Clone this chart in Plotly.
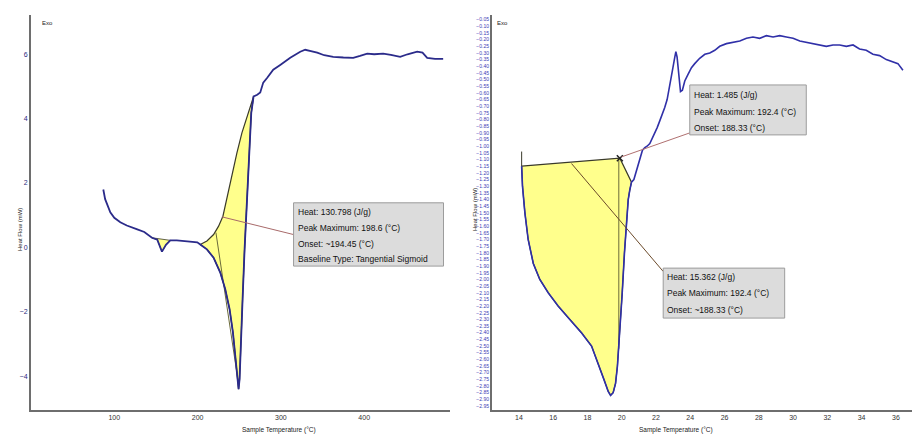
import plotly.graph_objects as go

# ---------------- left thermogram (Tangential Sigmoid baseline) ----------------
left_temp = [86.8, 89.0, 95.2, 100.0, 107.2, 115.0, 127.6, 136.0, 145.2, 151.6,
             157.2, 162.0, 167.2, 175.0, 187.6, 199.6, 203.2, 211.2, 219.2, 227.2,
             233.2, 238.4, 242.4, 245.6, 248.0, 249.2, 250.4, 252.0, 254.0, 256.4,
             259.2, 262.0, 264.4, 267.2, 271.6, 275.2, 278.8, 283.6, 290.8, 299.2,
             311.2, 323.2, 329.2, 336.0, 343.6, 352.0, 362.8, 375.0, 386.8, 395.0,
             403.6, 412.0, 422.8, 432.0, 443.2, 452.0, 463.6, 470.0, 475.6, 485.0,
             494.8]
left_flow = [1.80, 1.50, 1.09, 0.92, 0.78, 0.68, 0.56, 0.48, 0.30, 0.24,
             -0.13, 0.08, 0.22, 0.22, 0.19, 0.16, 0.09, -0.06, -0.32, -0.78,
             -1.30, -1.92, -2.64, -3.47, -4.09, -4.40, -4.09, -3.16, -1.61, -0.06,
             1.49, 3.04, 4.18, 4.69, 4.74, 4.81, 5.12, 5.27, 5.52, 5.67,
             5.89, 6.08, 6.14, 6.10, 6.05, 5.97, 5.92, 5.90, 5.89, 5.95,
             6.02, 6.00, 6.02, 5.98, 5.92, 6.00, 6.08, 6.05, 5.89, 5.86,
             5.86]
left_base_temp = [203.2, 211.2, 219.2, 225.2, 230.4, 235.2, 241.2, 247.2, 253.2, 259.2, 267.2]
left_base_flow = [0.09, 0.20, 0.40, 0.66, 0.97, 1.49, 2.21, 2.94, 3.56, 4.07, 4.69]
left_small_peak = (145.2, 167.2)
left_xticks = [100, 200, 300, 400]
left_yticks = [-4, -2, 0, 2, 4, 6]
left_box_text = ["Heat: 130.798 (J/g)", "Peak Maximum: 198.6 (°C)",
                 "Onset: ~194.45 (°C)", "Baseline Type: Tangential Sigmoid"]

# ---------------- right thermogram ----------------
right_temp = [141.6, 142.1, 143.5, 145.4, 148.4, 152.2, 157.1, 162.9, 169.7, 176.5,
              182.4, 186.3, 189.6, 192.1, 193.5, 195.0, 196.4, 197.5, 198.9, 200.3,
              201.6, 202.8, 203.8, 204.7, 205.7, 207.1, 208.0, 209.2, 210.6, 212.1,
              213.5, 214.8, 216.4, 217.9, 219.3, 220.7, 222.2, 223.8, 225.1, 226.5,
              228.1, 229.6, 231.0, 231.6, 232.3, 233.3, 234.3, 235.4, 236.8, 238.7,
              240.7, 242.6, 245.5, 248.5, 251.4, 254.3, 257.2, 261.1, 265.0, 268.9,
              272.8, 276.6, 280.5, 284.4, 288.3, 292.2, 296.1, 300.0, 303.9, 307.7,
              311.6, 315.5, 319.4, 323.3, 327.2, 331.1, 335.0, 338.8, 342.7, 346.6,
              350.5, 354.4, 358.3, 361.2, 364.1]
right_flow = [-1.15, -1.30, -1.50, -1.70, -1.88, -2.00, -2.10, -2.20, -2.30, -2.40,
              -2.50, -2.63, -2.75, -2.84, -2.87, -2.85, -2.78, -2.65, -2.40, -2.10,
              -1.80, -1.55, -1.40, -1.33, -1.27, -1.25, -1.21, -1.16, -1.08, -1.03,
              -1.01, -1.00, -0.98, -0.94, -0.90, -0.86, -0.81, -0.76, -0.71, -0.65,
              -0.55, -0.43, -0.33, -0.29, -0.33, -0.45, -0.59, -0.58, -0.51, -0.46,
              -0.41, -0.38, -0.34, -0.31, -0.30, -0.28, -0.25, -0.23, -0.22, -0.21,
              -0.19, -0.18, -0.19, -0.17, -0.18, -0.17, -0.18, -0.19, -0.21, -0.22,
              -0.23, -0.24, -0.25, -0.24, -0.24, -0.25, -0.24, -0.27, -0.28, -0.31,
              -0.32, -0.35, -0.37, -0.38, -0.43]
right_base_temp = [141.6, 198.9, 205.7]
right_base_flow = [-1.15, -1.09, -1.27]
right_xticks = [140, 160, 180, 200, 220, 240, 260, 280, 300, 320, 340, 360]
right_xtick_text = ["14", "16", "18", "20", "22", "24", "26", "28", "30", "32", "34", "36"]
right_top_box_text = ["Heat: 1.485 (J/g)", "Peak Maximum: 192.4 (°C)", "Onset: 188.33 (°C)"]
right_low_box_text = ["Heat: 15.362 (J/g)", "Peak Maximum: 192.4 (°C)", "Onset: ~188.33 (°C)"]

CURVE = "#2b2b8a"
EDGE = "#3a3a2a"
FILL = "rgb(255,255,140)"
AXIS = "#6e6e6e"
BOXFILL = "#dcdcdc"
BOXLINE = "#9c9c9c"
FONT = "Liberation Sans, Arial, sans-serif"

fig = go.Figure()

# left: yellow area between the curve and the sigmoid baseline
lo, hi = left_base_temp[0], left_base_temp[-1]
seg = [(t, f) for t, f in zip(left_temp, left_flow) if lo <= t <= hi]
fig.add_trace(go.Scatter(
    x=[p[0] for p in seg] + left_base_temp[::-1],
    y=[p[1] for p in seg] + left_base_flow[::-1],
    fill="toself", fillcolor=FILL, mode="lines", line=dict(color=EDGE, width=1.2),
    xaxis="x", yaxis="y", hoverinfo="skip"))
# left: small event near 157 °C
a, b = left_small_peak
seg2 = [(t, f) for t, f in zip(left_temp, left_flow) if a <= t <= b]
fig.add_trace(go.Scatter(
    x=[p[0] for p in seg2] + [a], y=[p[1] for p in seg2] + [seg2[0][1]],
    fill="toself", fillcolor=FILL, mode="lines", line=dict(color=EDGE, width=0.8),
    xaxis="x", yaxis="y", hoverinfo="skip"))
# left: peak marker line inside the area
fig.add_trace(go.Scatter(x=[222.0, 248.8], y=[0.46, -4.19], mode="lines",
                         line=dict(color="#6b6b3a", width=1), xaxis="x", yaxis="y"))
# left: measured curve
fig.add_trace(go.Scatter(x=left_temp, y=left_flow, mode="lines",
                         line=dict(color=CURVE, width=1.8), xaxis="x", yaxis="y"))
# left: connector to the result box
fig.add_trace(go.Scatter(x=[229.2, 315.2], y=[0.95, 0.40], mode="lines",
                         line=dict(color="#a86a6a", width=1), xaxis="x", yaxis="y"))

# right: yellow area under the linear baseline
rlo, rhi = right_base_temp[0], right_base_temp[-1]
rseg = [(t, f) for t, f in zip(right_temp, right_flow) if rlo <= t <= rhi]
fig.add_trace(go.Scatter(
    x=[p[0] for p in rseg] + right_base_temp[::-1],
    y=[p[1] for p in rseg] + right_base_flow[::-1],
    fill="toself", fillcolor=FILL, mode="lines", line=dict(color=EDGE, width=1.2),
    xaxis="x2", yaxis="y2", hoverinfo="skip"))
fig.add_trace(go.Scatter(x=[198.3, 198.3], y=[-1.09, -2.52], mode="lines",
                         line=dict(color="#6b6b3a", width=1), xaxis="x2", yaxis="y2"))
fig.add_trace(go.Scatter(x=[141.6, 141.6], y=[-1.04, -1.15], mode="lines",
                         line=dict(color=EDGE, width=1), xaxis="x2", yaxis="y2"))
fig.add_trace(go.Scatter(x=right_temp, y=right_flow, mode="lines",
                         line=dict(color="#3030a8", width=1.6), xaxis="x2", yaxis="y2"))
fig.add_trace(go.Scatter(x=[right_base_temp[1]], y=[right_base_flow[1]], mode="markers",
                         marker=dict(symbol="x-thin", size=6, line=dict(color="#222", width=1.5)),
                         xaxis="x2", yaxis="y2"))
fig.add_trace(go.Scatter(x=[199.9, 239.7], y=[-1.08, -0.90], mode="lines",
                         line=dict(color="#b07070", width=1), xaxis="x2", yaxis="y2"))
fig.add_trace(go.Scatter(x=[170.7, 224.2], y=[-1.13, -1.94], mode="lines",
                         line=dict(color="#6b4a2a", width=1), xaxis="x2", yaxis="y2"))

shapes = [
    dict(type="rect", xref="x", yref="y", x0=315.2, x1=495.2, y0=-0.58, y1=1.386,
         fillcolor=BOXFILL, line=dict(color=BOXLINE, width=1), layer="above"),
    dict(type="rect", xref="x2", yref="y2", x0=239.7, x1=307.7, y0=-0.915, y1=-0.54,
         fillcolor=BOXFILL, line=dict(color=BOXLINE, width=1), layer="above"),
    dict(type="rect", xref="x2", yref="y2", x0=224.2, x1=295.1, y0=-2.29, y1=-1.915,
         fillcolor=BOXFILL, line=dict(color=BOXLINE, width=1), layer="above"),
]

annotations = []
box_font = dict(family=FONT, size=8.5, color="#111")
for txt, yv in zip(left_box_text, [1.116, 0.589, 0.093, -0.372]):
    annotations.append(dict(x=318.0, y=yv, xref="x", yref="y", text=txt, showarrow=False,
                            xanchor="left", yanchor="middle", font=box_font))
for txt, yv in zip(right_top_box_text, [-0.615, -0.7425, -0.8625]):
    annotations.append(dict(x=241.0, y=yv, xref="x2", yref="y2", text=txt, showarrow=False,
                            xanchor="left", yanchor="middle", font=box_font))
for txt, yv in zip(right_low_box_text, [-1.98, -2.10, -2.2275]):
    annotations.append(dict(x=225.3, y=yv, xref="x2", yref="y2", text=txt, showarrow=False,
                            xanchor="left", yanchor="middle", font=box_font))

# axis titles and corner labels
small = dict(family="Liberation Sans, sans-serif", size=6, color="#222")
title_font = dict(family="Liberation Sans, sans-serif", size=6.5, color="#222")
annotations += [
    dict(x=15 / 914, y=1 - 230 / 434, xref="paper", yref="paper", text="Heat Flow (mW)",
         textangle=-90, showarrow=False, font=small),
    dict(x=475 / 914, y=1 - 210 / 434, xref="paper", yref="paper", text="Heat Flow (mW)",
         textangle=-90, showarrow=False, font=small),
    dict(x=240 / 914, y=-0.004, xref="paper", yref="paper", yanchor="bottom",
         text="Sample Temperature (°C)", showarrow=False, font=title_font),
    dict(x=715 / 914, y=-0.004, xref="paper", yref="paper", yanchor="bottom",
         text="Sample Temperature (°C)", showarrow=False, font=title_font),
    dict(x=40 / 914, y=1 - 18 / 434, xref="paper", yref="paper", text="Exo",
         showarrow=False, font=small),
    dict(x=502 / 914, y=1 - 18 / 434, xref="paper", yref="paper", text="Exo",
         showarrow=False, font=small),
]

axis_common = dict(showline=True, linecolor=AXIS, linewidth=2, showgrid=False,
                   zeroline=False, ticks="", mirror=False)

fig.update_layout(
    width=914, height=434, margin=dict(l=0, r=0, t=0, b=0),
    paper_bgcolor="white", plot_bgcolor="white", showlegend=False,
    shapes=shapes, annotations=annotations,
    xaxis=dict(domain=[31 / 914, 450 / 914], range=[0, 503], anchor="y",
               tickvals=left_xticks,
               tickfont=dict(family="Liberation Sans", size=7, color="#333"), **axis_common),
    yaxis=dict(domain=[24 / 434, 419 / 434], range=[-5.05, 7.22], anchor="x",
               tickvals=left_yticks,
               tickfont=dict(family="Liberation Sans", size=7, color="#2a2a80"), **axis_common),
    xaxis2=dict(domain=[492 / 914, 912 / 914], range=[124.3, 369.4], anchor="y2",
                tickvals=right_xticks, ticktext=right_xtick_text,
                tickfont=dict(family="Liberation Sans", size=7, color="#333"), **axis_common),
    yaxis2=dict(domain=[24 / 434, 419 / 434], range=[-2.98, -0.015], anchor="x2",
                tick0=0, dtick=0.05, tickformat=".2f",
                tickfont=dict(family="Liberation Sans", size=5, color="#3b3bb5"), **axis_common),
)

fig.write_html("out.html")
